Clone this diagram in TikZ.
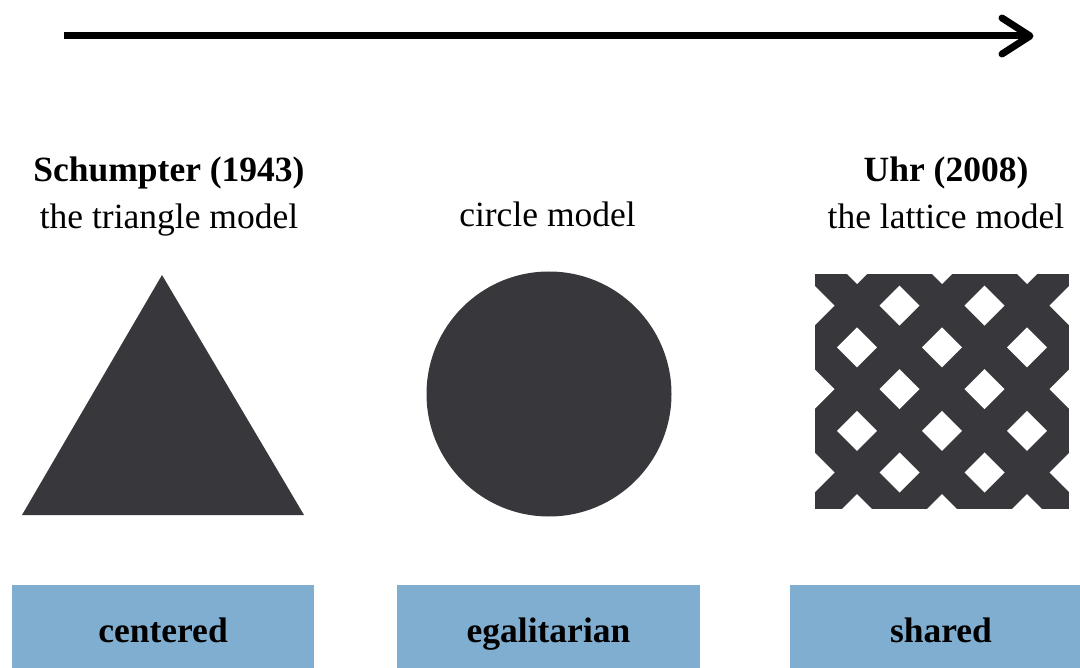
\documentclass[tikz,border=0pt]{standalone}
\usepackage{fontspec}
\setmainfont{Liberation Serif}
\definecolor{shapegray}{HTML}{38373B}
\definecolor{boxblue}{HTML}{80AED1}
\begin{document}
\begin{tikzpicture}[x=1pt,y=-1pt,
  lbl/.style={anchor=base,inner sep=0pt,font=\fontsize{35.5}{42}\selectfont},
  lblb/.style={lbl,font=\fontsize{35.5}{42}\selectfont\bfseries},
  catbox/.style={fill=boxblue,draw=none,anchor=north west,inner sep=0pt}]
\useasboundingbox (0,0) rectangle (1080,668);
% timeline arrow
\coordinate (a0) at (64,36);
\coordinate (a1) at (1030,36);
\coordinate (tipU) at (1002,18);
\coordinate (tipL) at (1002,54);
\draw[line width=7pt] (a0) -- (a1);
\draw[line width=7pt,line cap=round,line join=round] (tipU) -- (a1) -- (tipL);
% headings
\node[lblb] (h1) at (169,182) {Schumpter (1943)};
\node[lbl] (s1) at (169,229) {the triangle model};
\node[lbl] (s2) at (547.5,227) {circle model};
\node[lblb] (h3) at (946,182) {Uhr (2008)};
\node[lbl] (s3) at (946,229) {the lattice model};
% triangle
\fill[shapegray] (162,275) -- (304,515) -- (22,515) -- cycle;
% circle
\fill[shapegray] (549,394) circle[radius=122.5];
% lattice
\begin{scope}
\clip (815,274) rectangle (1069,509);
\fill[shapegray] (815,274) rectangle (1069,509);
\foreach \i in {0,...,6}{
  \foreach \j in {0,...,6}{
    \pgfmathtruncatemacro\s{mod(\i+\j,2)}
    \ifnum\s=1
      \fill[white] ({814.5+42.5*\i},{264+41.7*\j}) ++(-20,0) -- ++(20,-20) -- ++(20,20) -- ++(-20,20) -- cycle;
    \fi
  }
}
\end{scope}
% category boxes
\node[catbox,minimum width=302pt,minimum height=83pt] (b1) at (12,585) {};
\node[catbox,minimum width=303pt,minimum height=83pt] (b2) at (397,585) {};
\node[catbox,minimum width=290pt,minimum height=83pt] (b3) at (790,585) {};
\node[lblb] (c1) at (163,642.5) {centered};
\node[lblb] (c2) at (548.5,642.5) {egalitarian};
\node[lblb] (c3) at (941,642.5) {shared};
\end{tikzpicture}
\end{document}
